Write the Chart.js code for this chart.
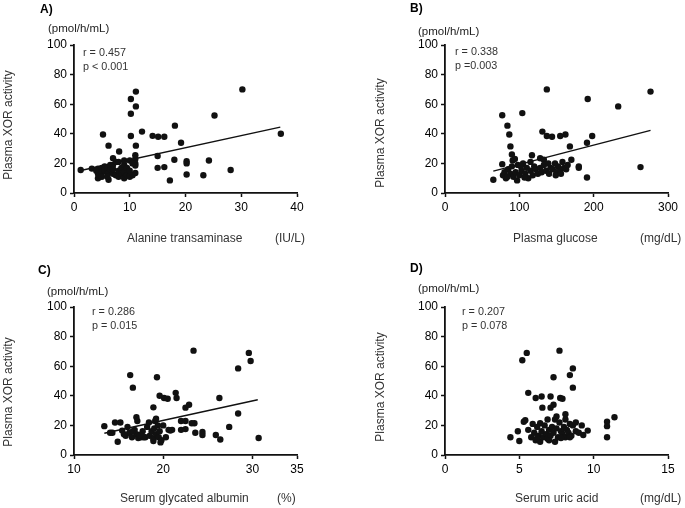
<!DOCTYPE html>
<html>
<head>
<meta charset="utf-8">
<script src="https://cdn.jsdelivr.net/npm/chart.js@4"></script>
<style>
  html, body { margin:0; padding:0; background:#fff; }
  body { width:685px; height:508px; position:relative; overflow:hidden; font-family:"Liberation Sans", Arial, sans-serif; color:#222; }
  .box { position:absolute; width:340px; height:254px; }
  .lbl { position:absolute; white-space:nowrap; line-height:1; }
</style>
</head>
<body>
<div class="box" style="left:0;top:0"><canvas id="cA"></canvas></div>
<div class="box" style="left:371px;top:0"><canvas id="cB"></canvas></div>
<div class="box" style="left:0;top:262px"><canvas id="cC"></canvas></div>
<div class="box" style="left:371px;top:262px"><canvas id="cD"></canvas></div>
<script>
// ---- Data ----
const panelLetters = ["A)", "B)", "C)", "D)"];
const xTitles = ["Alanine transaminase", "Plasma glucose", "Serum glycated albumin", "Serum uric acid"];
const xUnits = ["(IU/L)", "(mg/dL)", "(%)", "(mg/dL)"];
const yTitle = "Plasma XOR activity";
const yUnit = "(pmol/h/mL)";
const statsR = ["r = 0.457", "r = 0.338", "r = 0.286", "r = 0.207"];
const statsP = ["p < 0.001", "p =0.003", "p = 0.015", "p = 0.078"];
const xRanges = [[0, 40, 10], [0, 300, 100], [10, 35, 10], [0, 15, 5]];
const yRange = [0, 100, 20];

const pointsA = [
  [1.2,15.5],[3.2,16.5],[4.3,16.5],[4.3,13],[4.3,10],[5.2,39.5],[6.2,32],[6.2,9],[7,23.5],[8.1,28],
  [10.2,38.5],[10.2,63.5],[10.2,53.5],[11.1,68.5],[11.1,58.5],[11.1,32],[11,25.5],[11,23],[11,20],[11,18.5],
  [11,13.5],[12.2,41.5],[14.1,38.6],[15.1,38],[16.2,38],[15,25],[15,17],[16.2,17.5],[18.1,45.5],[18,22.5],
  [19.2,34],[20.2,21.5],[20.2,20],[20.2,12.5],[23.2,12],[24.2,22],[25.2,52.4],[28.1,15.5],[30.2,70],[37.1,40],
  [17.2,8.5],
  [4,15],[4.5,12],[5,17],[5,14],[5,11],[5.5,18],[5.5,15],[6,17],[6,13],[6,11],
  [6.5,16],[6.5,19],[7,13],[7,16],[7,19],[7.5,12],[7.5,21],[8,15],[8,11],[8,21],
  [8.5,13],[8.5,17],[9,10],[9,14],[9,19],[9,22],[9.5,12],[9.5,17],[10,11],[10,15],[10,22],[10.5,12],[10.5,20]
];
const pointsB = [
  [65,9],[77,52.5],[77,19.5],[84,45.5],[86.5,39.5],[104,54],[137,70],[131,41.5],[137,38.5],[144,38],
  [155,38.5],[162,39.5],[168,31.5],[170,22.5],[180,18],[180,17],[191,10.5],[191,34],[192,63.5],[198,38.5],
  [233,58.5],[263,17.5],[276.5,68.5],[88,31.5],[90,26],[91,22],[117,25.5],[128,23.5],[133,22.5],
  [78,12],[80,14],[82,10],[85,16],[88,13],[90,18],[92,11],[95,14],[97,8.5],[98,19],[100,12],
  [103,15],[105,20],[108,13],[110,17],[112,10],[115,15],[118,12],[120,18],[122,16],[125,13],
  [128,17],[130,14],[133,19],[136,15],[140,13],[142,17],[145,16],[148,20],[150,14],[152,18],
  [155,15],[158,21],[160,17],[163,16],[84,11],[94,23],[107,10.5],[139,20],[149,12],[156,13],
  [165,19],[115,21],[102,18]
];
const pointsC = [
  [13.4,19.5],[14.05,15],[14.6,22],[14.9,9],[15.2,22],[15.4,16.5],[16.3,54],[16.6,45.5],[17,25.5],[17.1,23],
  [19.3,52.5],[19.6,40],[18.9,32.2],[20.1,38.5],[20.5,38],[21.4,42],[21.5,38.5],[22.5,32],[22.9,34],[23.4,70.5],
  [23.5,21.5],[23.6,15],[24.4,15.5],[24.4,13.5],[25.9,13.5],[26.3,38.5],[26.4,10.5],[27.4,19],[28.4,58.5],[28.4,28],
  [29.6,69],[29.8,63.5],[30.7,11.5],[22,23],[22.5,23],[22,17],[22.5,17.5],[21,17],[19.7,8.5],[19.1,23],[18.9,9.5],
  [15.8,13],[16,19],[16.2,15],[16.5,12],[16.8,17],[17,14],[17.2,11.5],[17.5,12],[17.7,16],[18,12],
  [18.2,19],[18.5,13],[18.7,16],[18.9,11],[19,18],[19.2,14],[19.4,20],[19.5,12],[19.6,16],[19.8,10],
  [20,20],[20.3,12],[20.8,16.5],[15.6,14],[17.8,12],[14.3,15],[16.6,16],[18.4,22],[20.6,17],[17.4,13.5],
  [19.2,24.5],[23.2,21.5]
];
const pointsD = [
  [4.4,12],[4.9,16],[5.0,9.5],[5.2,64],[5.5,69],[5.3,22.5],[5.4,23.5],[5.6,42],[6.1,38.5],[6.5,39.5],
  [6.55,32],[7.3,52.5],[7.1,39.5],[7.3,34],[7.1,32],[7.75,38.5],[7.7,70.5],[7.9,38],[8.4,54],[8.6,58.5],
  [8.6,45.5],[8.1,27.5],[9.2,20],[9.3,13.5],[9.6,16.5],[10.9,22.5],[10.9,19.5],[10.9,12],[11.4,25.5],[6.4,21.5],
  [7.4,24],[8.1,24],[8.4,21],
  [5.6,17],[5.8,12],[6,15],[6.1,10],[6.2,19],[6.3,13],[6.4,9],[6.5,16],[6.6,12],[6.7,20],
  [6.8,14],[6.9,11],[7,17],[7.1,13],[7.2,19],[7.3,15],[7.4,9],[7.5,18],[7.6,12],[7.7,22],
  [7.8,16],[7.9,14],[8,19],[8.1,12],[8.2,17],[8.3,15],[8.5,13],[8.6,20],[8.8,16],[9,15],
  [5.9,21],[6.9,24],[7.5,26],[8.8,22],[6.2,11.5],[7,10],[7.8,11.5],[8.4,12]
];
const lineA = [[1,15],[37,44.5]];
const lineB = [[65,14.8],[276.5,42.3]];
const lineC = [[13.4,14.7],[30.6,37.3]];
const lineD = null;

// ---- Chart construction ----
const FONT = '"Liberation Sans", Arial, sans-serif';
const INK = '#111';

function toXY(arr) { return arr.map(p => ({x: p[0], y: p[1]})); }

function makeChart(id, pts, line, xr) {
  const datasets = [{
    type: 'scatter', data: toXY(pts), backgroundColor: INK, borderColor: INK,
    pointRadius: 3.2, pointHoverRadius: 3.2, borderWidth: 0
  }];
  if (line) {
    datasets.push({
      type: 'line', data: toXY(line), borderColor: INK, borderWidth: 1.4,
      pointRadius: 0, fill: false, tension: 0
    });
  }
  const axisCommon = {
    type: 'linear',
    border: { display: true, color: INK, width: 1.8 },
    grid: { display: true, drawOnChartArea: false, drawTicks: true, tickLength: 4, tickWidth: 1.5, tickColor: INK },
    ticks: { color: '#000', font: { family: FONT, size: 12 }, padding: 3 }
  };
  return new Chart(document.getElementById(id), {
    type: 'scatter',
    data: { datasets },
    options: {
      responsive: true, maintainAspectRatio: false, animation: false,
      layout: { padding: { left: 34, top: 45, right: 43, bottom: 41 } },
      plugins: { legend: { display: false }, tooltip: { enabled: false } },
      scales: {
        x: Object.assign({}, axisCommon, {
          min: xr[0], max: xr[1],
          ticks: Object.assign({}, axisCommon.ticks, { stepSize: xr[2], maxRotation: 0 }),
          afterFit: s => { s.height = 20; }
        }),
        y: Object.assign({}, axisCommon, {
          min: yRange[0], max: yRange[1],
          ticks: Object.assign({}, axisCommon.ticks, { stepSize: yRange[2] }),
          afterFit: s => { s.width = 40; }
        })
      }
    }
  });
}

makeChart('cA', pointsA, lineA, xRanges[0]);
makeChart('cB', pointsB, lineB, xRanges[1]);
makeChart('cC', pointsC, lineC, xRanges[2]);
makeChart('cD', pointsD, lineD, xRanges[3]);

// ---- Text labels ----
function label(text, x, cy, size, opts) {
  opts = opts || {};
  const d = document.createElement('div');
  d.className = 'lbl';
  d.textContent = text;
  d.style.fontSize = size + 'px';
  d.style.fontWeight = opts.bold ? 'bold' : 'normal';
  if (opts.color) d.style.color = opts.color;
  if (opts.rotate) {
    d.style.left = x + 'px';
    d.style.top = cy + 'px';
    d.style.transform = 'translate(-50%,-50%) rotate(-90deg)';
  } else {
    d.style.left = x + 'px';
    d.style.top = (cy - size / 2) + 'px';
  }
  document.body.appendChild(d);
}
const layoutPos = [
  { letter:[40,9],  unit:[48,29],  r:[83,52],  yT:[8,125],   xT:[127,238], xU:[275,238] },
  { letter:[410,8], unit:[418,32], r:[455,51], yT:[380,133], xT:[513,238], xU:[640,238] },
  { letter:[38,270],unit:[47,292], r:[92,311], yT:[8,392],   xT:[120,498], xU:[277,498] },
  { letter:[410,268],unit:[418,289],r:[462,311],yT:[380,387],xT:[515,498], xU:[640,498] }
];
for (let i = 0; i < 4; i++) {
  const L = layoutPos[i];
  label(panelLetters[i], L.letter[0], L.letter[1], 12, { bold: true, color: '#000' });
  label(yUnit, L.unit[0], L.unit[1], 11.5);
  label(statsR[i], L.r[0], L.r[1], 10.8, { color: '#333' });
  label(statsP[i], L.r[0], L.r[1] + 14, 10.8, { color: '#333' });
  label(yTitle, L.yT[0], L.yT[1], 12, { rotate: true, color: '#333' });
  label(xTitles[i], L.xT[0], L.xT[1], 12, { color: '#333' });
  label(xUnits[i], L.xU[0], L.xU[1], 12, { color: '#333' });
}
</script>
</body>
</html>
